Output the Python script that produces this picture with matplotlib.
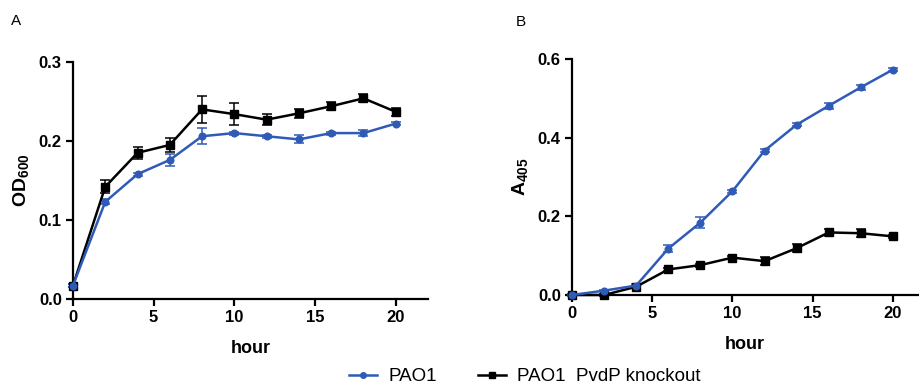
import matplotlib
matplotlib.use("Agg")
import matplotlib.pyplot as plt
from matplotlib.lines import Line2D

plt.rcParams['font.family'] = ['Liberation Sans', 'DejaVu Sans']
plt.rcParams['mathtext.fontset'] = 'custom'
plt.rcParams['mathtext.rm'] = 'Liberation Sans:bold'
plt.rcParams['mathtext.bf'] = 'Liberation Sans:bold'
plt.rcParams['mathtext.it'] = 'Liberation Sans:bold'

hours = [0, 2, 4, 6, 8, 10, 12, 14, 16, 18, 20]

# Panel A: OD600
od_pao1 = [0.017, 0.123, 0.158, 0.176, 0.206, 0.210, 0.206, 0.202, 0.210, 0.210, 0.222]
od_pao1_err = [0.002, 0.003, 0.002, 0.008, 0.010, 0.002, 0.002, 0.005, 0.002, 0.004, 0.002]
od_ko = [0.017, 0.142, 0.185, 0.195, 0.240, 0.234, 0.227, 0.235, 0.244, 0.254, 0.237]
od_ko_err = [0.002, 0.008, 0.008, 0.009, 0.017, 0.014, 0.007, 0.006, 0.005, 0.005, 0.005]

# Panel B: A405
a_pao1 = [0.0, 0.011, 0.024, 0.118, 0.184, 0.264, 0.367, 0.433, 0.481, 0.528, 0.573]
a_pao1_err = [0.002, 0.002, 0.003, 0.008, 0.013, 0.004, 0.004, 0.004, 0.007, 0.006, 0.003]
a_ko = [0.0, 0.0, 0.021, 0.065, 0.076, 0.095, 0.086, 0.119, 0.159, 0.157, 0.149]
a_ko_err = [0.002, 0.002, 0.003, 0.004, 0.004, 0.004, 0.010, 0.010, 0.010, 0.010, 0.003]

labels = ['PAO1', 'PAO1  PvdP knockout']
blue = '#2f5bb7'
black = '#000000'

fig = plt.figure(figsize=(9.19, 3.85), dpi=100)
axA = fig.add_axes([0.0794, 0.2234, 0.3863, 0.6156])
axB = fig.add_axes([0.6224, 0.2338, 0.3765, 0.6130])

def style(ax, xlim, ylim, yticks):
    ax.set_xlim(*xlim)
    ax.set_ylim(*ylim)
    ax.set_xticks([0, 5, 10, 15, 20])
    ax.set_yticks(yticks)
    ax.set_yticklabels([f'{v:.1f}' for v in yticks])
    for s in ['top', 'right']:
        ax.spines[s].set_visible(False)
    for s in ['left', 'bottom']:
        ax.spines[s].set_linewidth(1.6)
    ax.tick_params(width=1.6, length=5, labelsize=12, pad=3)
    for t in ax.get_xticklabels() + ax.get_yticklabels():
        t.set_fontweight('bold')
    ax.set_xlabel('hour', fontsize=13, fontweight='bold', labelpad=11)

ms_sq, ms_c = 5.5, 4.8

def plot_series(ax, y, e, color, marker, ms):
    ax.errorbar(hours, y, yerr=e, color=color, marker=marker, ms=ms, lw=1.8,
                capsize=3.5, elinewidth=1.1, capthick=1.1, clip_on=False,
                zorder=3)

plot_series(axA, od_ko, od_ko_err, black, 's', ms_sq)
plot_series(axA, od_pao1, od_pao1_err, blue, 'o', ms_c)
style(axA, (0, 22), (0, 0.3), [0.0, 0.1, 0.2, 0.3])
axA.set_ylabel(r'$\mathbf{OD_{600}}$', fontsize=14, labelpad=6)

plot_series(axB, a_ko, a_ko_err, black, 's', ms_sq)
plot_series(axB, a_pao1, a_pao1_err, blue, 'o', ms_c)
style(axB, (0, 21.56), (0, 0.6), [0.0, 0.2, 0.4, 0.6])
axB.set_ylabel(r'$\mathbf{A_{405}}$', fontsize=14, labelpad=6)

fig.text(0.012, 0.945, 'A', fontsize=11, ha='left', va='center')
fig.text(0.561, 0.943, 'B', fontsize=11, ha='left', va='center')

handles = [Line2D([], [], color=blue, marker='o', ms=4, lw=1.8),
           Line2D([], [], color=black, marker='s', ms=4.5, lw=1.8)]
fig.legend(handles, labels, loc='center', bbox_to_anchor=(0.571, 0.022),
           ncol=2, frameon=False, fontsize=13.5, handlelength=1.5,
           columnspacing=2.2, handletextpad=0.6, borderpad=0.0)

fig.savefig('out.png', dpi=100)
